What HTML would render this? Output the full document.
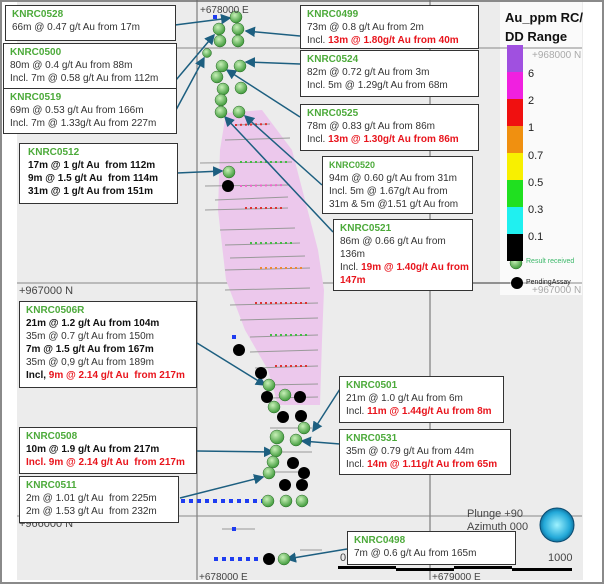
<!DOCTYPE html>
<html><head><meta charset="utf-8">
<style>
*{margin:0;padding:0;box-sizing:border-box}
body{width:605px;height:585px;overflow:hidden;background:#fff;font-family:"Liberation Sans",sans-serif;position:relative}
.b{position:absolute;background:#fff;border:1.3px solid #333;font-size:10px;line-height:13px;color:#333;padding:2px 0 0 6px;white-space:nowrap}
.b .t{color:#4caa3a;font-weight:bold}
.r{color:#e8141c;font-weight:bold}
.k{font-weight:bold;color:#111}
.l{position:absolute;font-size:10px;color:#444}
</style></head><body>
<svg width="605" height="585" style="position:absolute;left:0;top:0">
<defs><marker id="a" markerWidth="7" markerHeight="7" refX="6" refY="3.5" orient="auto"><path d="M0,0 L7,3.5 L0,7 z" fill="#1d5f80"/></marker>
<radialGradient id="g" cx="40%" cy="35%" r="65%"><stop offset="0" stop-color="#c8f0b8"/><stop offset="1" stop-color="#3f9a3a"/></radialGradient>
<radialGradient id="gl" cx="50%" cy="50%" r="55%"><stop offset="0" stop-color="#9ef2ff"/><stop offset="0.7" stop-color="#22a8d8"/><stop offset="1" stop-color="#0c5e88"/></radialGradient></defs>
<rect x="0" y="0" width="605" height="585" fill="#fff"/>
<rect x="17" y="0" width="566" height="580" fill="#ececec"/>
<rect x="500" y="0" width="82" height="295" fill="#fafafa"/>
<rect x="1" y="1" width="602" height="582" fill="none" stroke="#8a8a8a" stroke-width="2"/>
<line x1="197" y1="0" x2="197" y2="580" stroke="#666"/>
<line x1="430" y1="0" x2="430" y2="580" stroke="#666"/>
<line x1="17" y1="48" x2="582" y2="48" stroke="#888"/>
<line x1="17" y1="283" x2="582" y2="283" stroke="#888"/>
<line x1="17" y1="516" x2="582" y2="516" stroke="#888"/>
<path d="M226,113 L262,110 L292,150 L305,200 L318,250 L324,290 L322,340 L320,405 L278,405 L268,370 L245,330 L226,280 L218,210 L220,150 Z" fill="#ecc8ec"/>
<g stroke="#999" stroke-width="1">
<line x1="235" y1="125" x2="270" y2="124"/><line x1="225" y1="140" x2="290" y2="138"/><line x1="200" y1="163" x2="292" y2="162"/>
<line x1="205" y1="186" x2="290" y2="185"/><line x1="215" y1="200" x2="288" y2="197"/><line x1="205" y1="210" x2="288" y2="208"/>
<line x1="220" y1="230" x2="295" y2="228"/><line x1="225" y1="245" x2="300" y2="243"/><line x1="230" y1="258" x2="305" y2="256"/>
<line x1="225" y1="270" x2="310" y2="268"/><line x1="225" y1="290" x2="310" y2="288"/><line x1="230" y1="305" x2="318" y2="303"/>
<line x1="240" y1="320" x2="318" y2="318"/><line x1="250" y1="337" x2="318" y2="335"/><line x1="250" y1="352" x2="318" y2="350"/>
<line x1="255" y1="368" x2="318" y2="366"/><line x1="265" y1="385" x2="318" y2="384"/><line x1="270" y1="398" x2="318" y2="397"/>
<line x1="270" y1="428" x2="312" y2="428"/><line x1="275" y1="452" x2="312" y2="452"/><line x1="270" y1="472" x2="305" y2="472"/>
<line x1="222" y1="529" x2="255" y2="529"/><line x1="300" y1="550" x2="322" y2="550"/>
</g>
<g stroke-width="2" stroke-dasharray="2,3">
<line x1="235" y1="125" x2="270" y2="124" stroke="#d33"/><line x1="240" y1="162" x2="290" y2="162" stroke="#4b4"/>
<line x1="240" y1="186" x2="285" y2="185" stroke="#e6c"/><line x1="245" y1="208" x2="285" y2="208" stroke="#d33"/>
<line x1="250" y1="243" x2="295" y2="243" stroke="#4b4"/><line x1="260" y1="268" x2="305" y2="268" stroke="#e83"/>
<line x1="255" y1="303" x2="310" y2="303" stroke="#d33"/><line x1="270" y1="335" x2="310" y2="335" stroke="#4b4"/>
<line x1="275" y1="366" x2="310" y2="366" stroke="#d33"/>
</g>
<g stroke="#1d5f80" stroke-width="1.5" fill="none" marker-end="url(#a)">
<line x1="175" y1="25" x2="230" y2="18"/>
<line x1="300" y1="36" x2="246" y2="31"/>
<line x1="176" y1="80" x2="214" y2="35"/>
<line x1="176" y1="110" x2="204" y2="58"/>
<line x1="300" y1="64" x2="246" y2="62"/>
<line x1="300" y1="117" x2="227" y2="70"/>
<line x1="322" y1="185" x2="245" y2="116"/>
<line x1="333" y1="232" x2="225" y2="117"/>
<line x1="177" y1="173" x2="222" y2="171"/>
<line x1="197" y1="343" x2="265" y2="385"/>
<line x1="340" y1="389" x2="313" y2="431"/>
<line x1="340" y1="444" x2="302" y2="441"/>
<line x1="197" y1="451" x2="273" y2="452"/>
<line x1="180" y1="498" x2="263" y2="477"/>
<line x1="347" y1="549" x2="287" y2="559"/>
</g>
<g fill="#1e3cf0">
<rect x="213" y="15" width="4" height="4"/><rect x="232" y="335" width="4" height="4"/><rect x="232" y="527" width="4" height="4"/>
</g>
<line x1="181" y1="501" x2="262" y2="501" stroke="#1e3cf0" stroke-width="4" stroke-dasharray="4,4"/>
<line x1="214" y1="559" x2="258" y2="559" stroke="#1e3cf0" stroke-width="4" stroke-dasharray="4,4"/>
<g fill="url(#g)" stroke="#2c6a2c" stroke-width="0.5">
<circle cx="236" cy="17" r="6"/><circle cx="219" cy="29" r="6"/><circle cx="238" cy="29" r="6"/><circle cx="220" cy="41" r="6"/><circle cx="238" cy="41" r="6"/>
<circle cx="207" cy="53" r="4.5"/><circle cx="222" cy="66" r="6"/><circle cx="240" cy="66" r="6"/><circle cx="217" cy="77" r="6"/><circle cx="223" cy="89" r="6"/><circle cx="241" cy="88" r="6"/>
<circle cx="221" cy="100" r="6"/><circle cx="221" cy="112" r="6"/><circle cx="239" cy="112" r="6"/><circle cx="229" cy="172" r="6"/>
<circle cx="269" cy="385" r="6"/><circle cx="285" cy="395" r="6"/><circle cx="274" cy="407" r="6"/><circle cx="304" cy="428" r="6"/>
<circle cx="277" cy="437" r="7"/><circle cx="296" cy="440" r="6"/><circle cx="276" cy="451" r="6"/><circle cx="273" cy="462" r="6"/><circle cx="269" cy="473" r="6"/>
<circle cx="268" cy="501" r="6"/><circle cx="286" cy="501" r="6"/><circle cx="302" cy="501" r="6"/><circle cx="284" cy="559" r="6"/>
<circle cx="516" cy="263" r="6"/>
</g>
<g fill="#000">
<circle cx="228" cy="186" r="6"/><circle cx="239" cy="350" r="6"/><circle cx="261" cy="373" r="6"/><circle cx="267" cy="397" r="6"/><circle cx="300" cy="397" r="6"/>
<circle cx="283" cy="417" r="6"/><circle cx="301" cy="416" r="6"/><circle cx="293" cy="463" r="6"/><circle cx="304" cy="473" r="6"/>
<circle cx="285" cy="485" r="6"/><circle cx="302" cy="485" r="6"/><circle cx="269" cy="559" r="6"/><circle cx="517" cy="283" r="6"/>
</g>
<line x1="473" y1="283" x2="510" y2="283" stroke="#333"/>
<g>
<rect x="507" y="45" width="16" height="27" fill="#a050e0"/><rect x="507" y="72" width="16" height="27" fill="#f020e0"/>
<rect x="507" y="99" width="16" height="27" fill="#f01010"/><rect x="507" y="126" width="16" height="27" fill="#f09010"/>
<rect x="507" y="153" width="16" height="27" fill="#f8f000"/><rect x="507" y="180" width="16" height="27" fill="#20e020"/>
<rect x="507" y="207" width="16" height="27" fill="#20f0f0"/><rect x="507" y="234" width="16" height="27" fill="#000"/>
</g>
<circle cx="557" cy="525" r="17" fill="url(#gl)" stroke="#0a4a70"/>
<rect x="338" y="566" width="58" height="3" fill="#000"/><rect x="396" y="568" width="58" height="3" fill="#000"/>
<rect x="454" y="566" width="58" height="3" fill="#000"/><rect x="512" y="568" width="60" height="3" fill="#000"/>
</svg>
<div class="l" style="left:200px;top:5px">+678000 E</div>
<div class="l" style="left:532px;top:50px;color:#aaa">+968000 N</div>
<div class="l" style="left:19px;top:285px;font-size:11px">+967000 N</div>
<div class="l" style="left:532px;top:285px;color:#aaa">+967000 N</div>
<div class="l" style="left:19px;top:518px;font-size:11px">+966000 N</div>
<div class="l" style="left:199px;top:572px">+678000 E</div>
<div class="l" style="left:432px;top:572px">+679000 E</div>
<div class="l" style="left:467px;top:508px;font-size:11px;line-height:13px">Plunge +90<br>Azimuth 000<br>&nbsp;</div>
<div class="l" style="left:340px;top:552px;font-size:11px">0</div>
<div class="l" style="left:548px;top:552px;font-size:11px">1000</div>
<div class="l" style="left:505px;top:8px;font-size:13px;font-weight:bold;color:#111;line-height:19px">Au_ppm RC/<br>DD Range</div>
<div class="l" style="left:528px;top:61px;font-size:11px;line-height:27.2px;color:#222">6<br>2<br>1<br>0.7<br>0.5<br>0.3<br>0.1</div>
<div class="l" style="left:526px;top:258px;font-size:7px;color:#3cb86a">Result received</div>
<div class="l" style="left:526px;top:279px;font-size:7px;color:#222">PendingAssay</div>

<div class="b" style="left:5px;top:5px;width:171px;height:36px"><div class="t">KNRC0528</div>66m @ 0.47 g/t Au from 17m</div>
<div class="b" style="left:3px;top:43px;width:174px;height:46px"><div class="t">KNRC0500</div>80m @ 0.4 g/t Au from 88m<br>Incl. 7m @ 0.58 g/t Au from 112m</div>
<div class="b" style="left:3px;top:88px;width:174px;height:46px"><div class="t">KNRC0519</div>69m @ 0.53 g/t Au from 166m<br>Incl. 7m @ 1.33g/t Au from 227m</div>
<div class="b" style="left:19px;top:143px;width:159px;height:61px;padding-left:8px"><div class="t">KNRC0512</div><span class="k">17m @ 1 g/t Au &nbsp;from 112m<br>9m @ 1.5 g/t Au &nbsp;from 114m<br>31m @ 1 g/t Au from 151m</span></div>
<div class="b" style="left:300px;top:5px;width:179px;height:44px"><div class="t">KNRC0499</div>73m @ 0.8 g/t Au from 2m<br>Incl. <span class="r">13m @ 1.80g/t Au from 40m</span></div>
<div class="b" style="left:300px;top:50px;width:179px;height:47px"><div class="t">KNRC0524</div>82m @ 0.72 g/t Au from 3m<br>Incl. 5m @ 1.29g/t Au from 68m</div>
<div class="b" style="left:300px;top:104px;width:179px;height:47px"><div class="t">KNRC0525</div>78m @ 0.83 g/t Au from 86m<br>Incl. <span class="r">13m @ 1.30g/t Au from 86m</span></div>
<div class="b" style="left:322px;top:156px;width:151px;height:58px"><div class="t" style="font-size:9px">KNRC0520</div>94m @ 0.60 g/t Au from 31m<br>Incl. 5m @ 1.67g/t Au from<br>31m &amp; 5m @1.51 g/t Au from</div>
<div class="b" style="left:333px;top:219px;width:140px;height:72px"><div class="t">KNRC0521</div>86m @ 0.66 g/t Au from<br>136m<br>Incl. <span class="r">19m @ 1.40g/t Au from<br>147m</span></div>
<div class="b" style="left:19px;top:301px;width:178px;height:87px"><div class="t">KNRC0506R</div><span class="k">21m @ 1.2 g/t Au from 104m</span><br>35m @ 0.7 g/t Au from 150m<br><span class="k">7m @ 1.5 g/t Au from 167m</span><br>35m @ 0,9 g/t Au from 189m<br><span class="k">Incl, </span><span class="r">9m @ 2.14 g/t Au &nbsp;from 217m</span></div>
<div class="b" style="left:339px;top:376px;width:165px;height:47px"><div class="t">KNRC0501</div>21m @ 1.0 g/t Au from 6m<br>Incl. <span class="r">11m @ 1.44g/t Au from 8m</span></div>
<div class="b" style="left:19px;top:427px;width:178px;height:47px"><div class="t">KNRC0508</div><span class="k">10m @ 1.9 g/t Au from 217m</span><br><span class="r">Incl. 9m @ 2.14 g/t Au &nbsp;from 217m</span></div>
<div class="b" style="left:339px;top:429px;width:172px;height:46px"><div class="t">KNRC0531</div>35m @ 0.79 g/t Au from 44m<br>Incl. <span class="r">14m @ 1.11g/t Au from 65m</span></div>
<div class="b" style="left:19px;top:476px;width:160px;height:47px"><div class="t">KNRC0511</div>2m @ 1.01 g/t Au &nbsp;from 225m<br>2m @ 1.53 g/t Au &nbsp;from 232m</div>
<div class="b" style="left:347px;top:531px;width:169px;height:34px"><div class="t">KNRC0498</div>7m @ 0.6 g/t Au from 165m</div>
</body></html>
